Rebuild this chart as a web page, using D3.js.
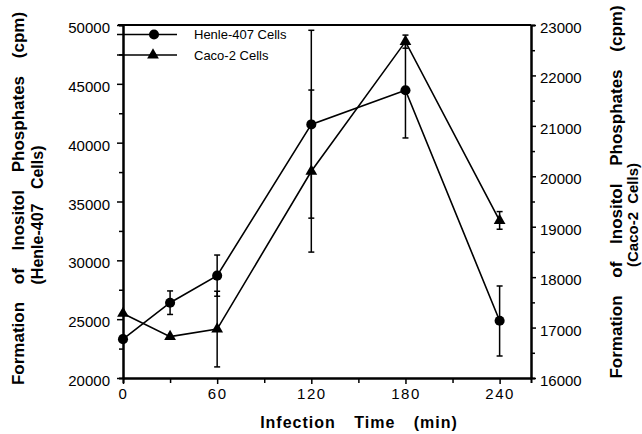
<!DOCTYPE html>
<html>
<head>
<meta charset="utf-8">
<script src="https://cdn.jsdelivr.net/npm/d3@7"></script>
<style>
  body { margin: 0; background: #fff; }
  text { font-family: "Liberation Sans", Arial, sans-serif; fill: #000; }
</style>
</head>
<body>
<script>
// infection time (min)
var times = [0, 30, 60, 120, 180, 240];
var majorTicks = [0, 60, 120, 180, 240];
var minorTicks = [30, 90, 150, 210];

// Henle-407 cells, left axis (cpm), with error bar ends
var henle = [23300, 26400, 28700, 41550, 44450, 24870];
var henleLo = [23300, 25400, 26950, 30700, 40400, 21870];
var henleHi = [23300, 27400, 30450, 49550, 48450, 27820];

// Caco-2 cells, right axis (cpm)
var caco = [17280, 16820, 16970, 20100, 22670, 19120];
var cacoLo = [17280, 16820, 16220, 19170, 22540, 18950];
var cacoHi = [17280, 16820, 17720, 21710, 22800, 19300];

var leftTicks = [20000, 25000, 30000, 35000, 40000, 45000, 50000];
var leftMinor = [22500, 27500, 32500, 37500, 42500, 47500];
var rightTicks = [16000, 17000, 18000, 19000, 20000, 21000, 22000, 23000];
var rightMinor = [16500, 17500, 18500, 19500, 20500, 21500, 22500];

var svg = d3.select("body").append("svg")
  .attr("width", 642)
  .attr("height", 434);

var x = d3.scaleLinear().domain([0, 260]).range([123, 531]);
var yL = d3.scaleLinear().domain([20000, 50000]).range([378, 25]);
var yR = d3.scaleLinear().domain([16000, 23000]).range([378, 25]);

function styleAxis(g) {
  g.select(".domain").attr("stroke", "#000").attr("stroke-width", 2);
  g.selectAll(".tick line").attr("stroke", "#000").attr("stroke-width", 1.5);
  g.selectAll("text").style("font-size", "15px").style("font-family", "Liberation Sans, Arial, sans-serif");
}

// minor ticks first
svg.append("g").attr("transform", "translate(0,378)")
  .call(d3.axisBottom(x).tickValues(minorTicks).tickSize(5).tickFormat(""))
  .call(styleAxis);
svg.append("g").attr("transform", "translate(123,0)")
  .call(d3.axisLeft(yL).tickValues(leftMinor).tickSize(4).tickFormat(""))
  .call(styleAxis);
svg.append("g").attr("transform", "translate(531,0)")
  .call(d3.axisRight(yR).tickValues(rightMinor).tickSize(4).tickFormat(""))
  .call(styleAxis);

var xAxis = svg.append("g").attr("transform", "translate(0,378)")
  .call(d3.axisBottom(x).tickValues(majorTicks).tickSize(6).tickSizeOuter(0).tickPadding(4))
  .call(styleAxis);
xAxis.selectAll("text").style("letter-spacing", "1.5px");

var lAxis = svg.append("g").attr("transform", "translate(123,0)")
  .call(d3.axisLeft(yL).tickValues(leftTicks).tickSize(6).tickSizeOuter(0).tickPadding(7).tickFormat(d3.format("d")))
  .call(styleAxis);
lAxis.selectAll("text").attr("dy", "0.5em");

var rAxis = svg.append("g").attr("transform", "translate(531,0)")
  .call(d3.axisRight(yR).tickValues(rightTicks).tickSize(5).tickSizeOuter(0).tickPadding(4).tickFormat(d3.format("d")))
  .call(styleAxis);
rAxis.selectAll("text").attr("dy", "0.5em");

// top border
svg.append("line")
  .attr("x1", x(0) - 5).attr("x2", x(260))
  .attr("y1", yL(50000)).attr("y2", yL(50000))
  .attr("stroke", "#000").attr("stroke-width", 2);

// series
var series = [
  { vals: henle, lo: henleLo, hi: henleHi, y: yL, sym: d3.symbolCircle, size: 80 },
  { vals: caco, lo: cacoLo, hi: cacoHi, y: yR, sym: d3.symbolTriangle, size: 60 }
];

series.forEach(function(s) {
  var line = d3.line()
    .x(function(d, i) { return x(times[i]); })
    .y(function(d) { return s.y(d); });
  svg.append("path")
    .attr("d", line(s.vals))
    .attr("fill", "none")
    .attr("stroke", "#000")
    .attr("stroke-width", 1.6);

  times.forEach(function(t, i) {
    if (s.hi[i] === s.lo[i]) return;
    var cx = x(t);
    svg.append("line")
      .attr("x1", cx).attr("x2", cx)
      .attr("y1", s.y(s.lo[i])).attr("y2", s.y(s.hi[i]))
      .attr("stroke", "#000").attr("stroke-width", 1.5);
    [s.lo[i], s.hi[i]].forEach(function(v) {
      svg.append("line")
        .attr("x1", cx - 3).attr("x2", cx + 3)
        .attr("y1", s.y(v)).attr("y2", s.y(v))
        .attr("stroke", "#000").attr("stroke-width", 1.5);
    });
  });

  svg.selectAll(null).data(s.vals).enter().append("path")
    .attr("d", d3.symbol().type(s.sym).size(s.size))
    .attr("transform", function(d, i) { return "translate(" + x(times[i]) + "," + s.y(d) + ")"; })
    .attr("fill", "#000");
});

// legend
var legend = [
  { label: "Henle-407 Cells", sym: d3.symbolCircle, size: 80, y: 34.5, mx: 154 },
  { label: "Caco-2 Cells", sym: d3.symbolTriangle, size: 60, y: 55, mx: 153 }
];
legend.forEach(function(l) {
  svg.append("line")
    .attr("x1", 117).attr("x2", 177)
    .attr("y1", l.y).attr("y2", l.y)
    .attr("stroke", "#000").attr("stroke-width", 1.6);
  svg.append("path")
    .attr("d", d3.symbol().type(l.sym).size(l.size))
    .attr("transform", "translate(" + l.mx + "," + l.y + ")")
    .attr("fill", "#000");
  svg.append("text")
    .attr("x", 194).attr("y", l.y + 4.5)
    .style("font-size", "13px")
    .text(l.label);
});

// axis titles
svg.append("text")
  .attr("x", 359).attr("y", 428)
  .attr("text-anchor", "middle")
  .style("font-size", "16px").style("font-weight", "bold")
  .style("letter-spacing", "1px").style("word-spacing", "13px")
  .text("Infection Time (min)");

function vTitle(xPos, yPos, size, ws, txt) {
  svg.append("text")
    .attr("transform", "translate(" + xPos + "," + yPos + ") rotate(-90)")
    .attr("text-anchor", "middle")
    .style("font-size", size + "px").style("font-weight", "bold")
    .style("word-spacing", ws + "px")
    .text(txt);
}
vTitle(24, 198.5, 17, 13, "Formation of Inositol Phosphates (cpm)");
vTitle(43, 215, 16, 10, "(Henle-407 Cells)");
vTitle(622, 192, 17, 13, "Formation of Inositol Phosphates (cpm)");
vTitle(638, 215, 15, 4, "(Caco-2 Cells)");
</script>
</body>
</html>
